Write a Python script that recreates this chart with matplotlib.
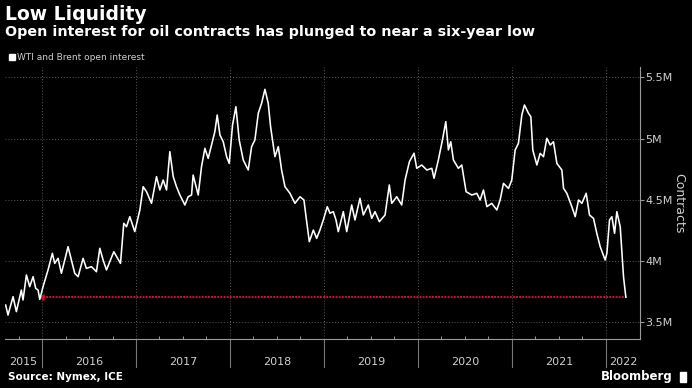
import matplotlib.pyplot as plt
import matplotlib.transforms as mtransforms

# open interest, millions of contracts, by fractional year
t = [2015.613, 2015.638, 2015.692, 2015.727, 2015.780, 2015.798, 2015.834, 2015.869, 2015.905, 2015.933,
     2015.958, 2015.976, 2016.011, 2016.064, 2016.110, 2016.135, 2016.171, 2016.206, 2016.242, 2016.277,
     2016.313, 2016.348, 2016.384, 2016.437, 2016.472, 2016.526, 2016.579, 2016.615, 2016.650, 2016.686,
     2016.721, 2016.764, 2016.835, 2016.870, 2016.899, 2016.934, 2016.987, 2017.041, 2017.076, 2017.112,
     2017.165, 2017.218, 2017.254, 2017.289, 2017.325, 2017.360, 2017.396, 2017.431, 2017.467, 2017.520,
     2017.555, 2017.591, 2017.608, 2017.662, 2017.697, 2017.733, 2017.768, 2017.804, 2017.839, 2017.864,
     2017.893, 2017.928, 2017.964, 2017.992, 2018.027, 2018.063, 2018.098, 2018.141, 2018.194, 2018.230,
     2018.265, 2018.301, 2018.336, 2018.372, 2018.407, 2018.432, 2018.478, 2018.514, 2018.549, 2018.585,
     2018.638, 2018.691, 2018.745, 2018.787, 2018.809, 2018.844, 2018.887, 2018.922, 2018.957, 2018.993,
     2019.035, 2019.064, 2019.099, 2019.128, 2019.152, 2019.206, 2019.242, 2019.295, 2019.330, 2019.383,
     2019.419, 2019.472, 2019.508, 2019.543, 2019.589, 2019.650, 2019.695, 2019.721, 2019.774, 2019.827,
     2019.863, 2019.909, 2019.958, 2019.987, 2020.040, 2020.094, 2020.147, 2020.171, 2020.217, 2020.264,
     2020.296, 2020.324, 2020.349, 2020.377, 2020.430, 2020.466, 2020.512, 2020.573, 2020.626, 2020.661,
     2020.697, 2020.733, 2020.785, 2020.839, 2020.874,
     2020.910, 2020.963, 2020.998, 2021.034, 2021.069, 2021.105, 2021.133, 2021.176, 2021.201, 2021.222,
     2021.265, 2021.300, 2021.336, 2021.371, 2021.407, 2021.442, 2021.478, 2021.531, 2021.549, 2021.584,
     2021.637, 2021.673, 2021.708, 2021.744, 2021.790, 2021.825, 2021.868, 2021.903, 2021.939, 2021.992,
     2022.010, 2022.038, 2022.063, 2022.092, 2022.116, 2022.152, 2022.170, 2022.187, 2022.212]
oi = [3.641, 3.559, 3.709, 3.587, 3.763, 3.682, 3.886, 3.791, 3.872, 3.777,
      3.763, 3.687, 3.791, 3.927, 4.063, 3.981, 4.022, 3.900, 4.008, 4.117,
      4.008, 3.900, 3.872, 4.022, 3.940, 3.954, 3.913, 4.104, 4.008, 3.927,
      3.995, 4.076, 3.981, 4.308, 4.280, 4.362, 4.240, 4.417, 4.607, 4.566,
      4.471, 4.689, 4.580, 4.661, 4.580, 4.893, 4.689, 4.607, 4.539, 4.457,
      4.525, 4.539, 4.702, 4.539, 4.770, 4.920, 4.838, 4.947, 5.056, 5.192,
      5.029, 4.974, 4.852, 4.797, 5.110, 5.260, 4.988, 4.825, 4.743, 4.934,
      4.988, 5.206, 5.287, 5.402, 5.287, 5.097, 4.852, 4.934, 4.743, 4.607,
      4.553, 4.471, 4.525, 4.498, 4.362, 4.158, 4.253, 4.185, 4.253, 4.335,
      4.444, 4.390, 4.403, 4.335, 4.240, 4.403, 4.240, 4.458, 4.335, 4.512,
      4.376, 4.458, 4.349, 4.403, 4.321, 4.376, 4.621, 4.471, 4.525, 4.458,
      4.662, 4.811, 4.880, 4.757, 4.784, 4.743, 4.757, 4.676, 4.825, 5.002,
      5.138, 4.907, 4.974, 4.825, 4.757, 4.784, 4.566, 4.539, 4.553, 4.498,
      4.580, 4.444, 4.471, 4.417, 4.498,
      4.634, 4.593, 4.661, 4.906, 4.961, 5.192, 5.274, 5.206, 5.178, 4.906,
      4.784, 4.879, 4.852, 5.002, 4.947, 4.974, 4.797, 4.743, 4.593, 4.553,
      4.444, 4.362, 4.498, 4.471, 4.553, 4.376, 4.348, 4.226, 4.117, 4.008,
      4.063, 4.335, 4.362, 4.226, 4.403, 4.280, 4.063, 3.872, 3.704]

low_since = 2015.976   # last time open interest was this low
years = [2015, 2016, 2017, 2018, 2019, 2020, 2021, 2022]
yticks = [3.5, 4.0, 4.5, 5.0, 5.5]
ytick_labels = ['3.5M', '4M', '4.5M', '5M', '5.5M']

fig = plt.figure(figsize=(6.92, 3.88), dpi=100, facecolor='black')
ax = fig.add_axes([0.0072, 0.1255, 0.9176, 0.7018], facecolor='black')

x0, x1 = 2015.606, 2022.362
ax.set_xlim(x0, x1)
ax.set_ylim(3.361, 5.584)

# grid
for y in yticks:
    ax.axhline(y, color='#5a5a5a', lw=0.7, ls=(0, (1, 2)), zorder=1)
for yr in years[1:]:
    ax.axvline(yr, color='#5a5a5a', lw=0.7, ls=(0, (1, 2)), zorder=1)

ax.plot(t, oi, color='white', lw=1.15, zorder=3)
ax.plot([low_since, t[-1]], [oi[-1], oi[-1]], color='#d0102a', lw=1.4,
        ls=(0, (1, 0.6)), zorder=2)
ax.plot([low_since], [oi[-1]], marker=4, color='#d0102a', ms=4, zorder=2)

# spines and ticks
for s in ['top', 'left']:
    ax.spines[s].set_visible(False)
ax.spines['bottom'].set_color('#9a9a9a')
ax.spines['right'].set_color('#9a9a9a')
ax.yaxis.tick_right()
ax.set_yticks(yticks)
ax.set_yticklabels(ytick_labels)
ax.tick_params(axis='y', colors='#9a9a9a', labelcolor='#cfcfcf', labelsize=8,
               length=3, width=0.8, pad=1)
ax.set_xticks(years[1:])
ax.set_xticklabels([])
ax.set_xticks([y + q / 4 for y in years[:-1] for q in (1, 2, 3)
               if x0 < y + q / 4 < x1], minor=True)
ax.tick_params(axis='x', which='major', length=0)
ax.tick_params(axis='x', which='minor', direction='in', length=2,
               color='#9a9a9a', width=0.7)

ax.yaxis.set_label_position('right')
ax.set_ylabel('Contracts', color='#cfcfcf', fontsize=9, rotation=270,
              labelpad=9)

# year separators below the axis and centred year labels
trans = mtransforms.blended_transform_factory(ax.transData, ax.transAxes)
for yr in years[1:]:
    ax.plot([yr, yr], [0, -0.10], color='#777777', lw=0.8, transform=trans,
            clip_on=False)
for i, yr in enumerate(years):
    left = max(yr, x0)
    right = min(yr + 1, x1)
    ax.text((left + right) / 2, -0.083, str(yr), transform=trans, ha='center',
            va='center', color='#cfcfcf', fontsize=8)

# titles, legend, footer
fig.text(0.007, 0.988, 'Low Liquidity', color='white', fontsize=13.5,
         fontweight='bold', va='top')
fig.text(0.007, 0.935, 'Open interest for oil contracts has plunged to near a six-year low',
         color='white', fontsize=10.3, fontweight='bold', va='top')
fig.patches.append(plt.Rectangle((0.013, 0.845), 0.009, 0.016, color='white',
                                 transform=fig.transFigure))
fig.text(0.025, 0.853, 'WTI and Brent open interest', color='#cfcfcf',
         fontsize=6.5, va='center')
fig.text(0.011, 0.029, 'Source: Nymex, ICE', color='white', fontsize=7.5,
         fontweight='bold', va='center')
fig.text(0.972, 0.029, 'Bloomberg', color='white', fontsize=8.5,
         fontweight='bold', ha='right', va='center')
fig.patches.append(plt.Rectangle((0.982, 0.015), 0.010, 0.027, color='white',
                                 transform=fig.transFigure))

fig.savefig('out.png', dpi=100, facecolor='black')
